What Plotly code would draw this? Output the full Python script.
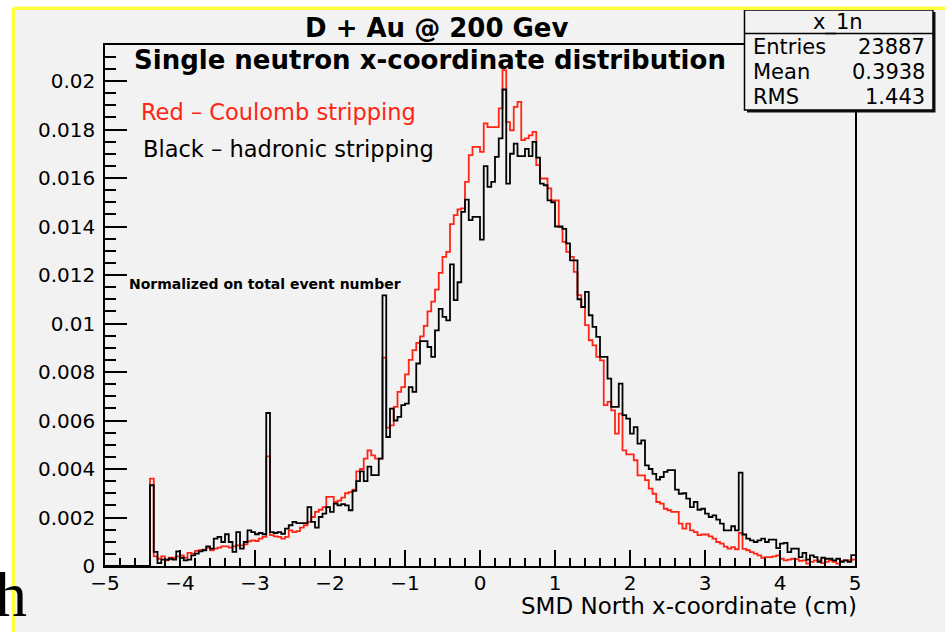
import numpy as np
import plotly.graph_objects as go

# ---------------- data (histogram contents, units of 1e-3) ----------------
BIN_LOW = -5.0
BIN_WIDTH = 0.05

black_hadronic_permille = [
    0, 0, 0, 0, 0, 0, 0, 0, 0, 0, 0, 0,
    3.33, 0.58, 0.12, 0.26, 0.26, 0.30, 0.26, 0.60, 0.34, 0.23,
    0.26, 0.44, 0.51, 0.60, 0.65, 0.81, 0.72, 1.13, 1.20, 0.99,
    1.31, 0.99, 0.58, 1.40, 0.72, 0.99, 1.47, 1.40, 1.31, 1.36,
    1.31, 6.31, 1.40, 1.36, 1.40, 1.33, 1.54, 1.68, 1.82, 1.77,
    1.77, 1.77, 2.43, 1.82, 1.58, 2.02, 2.16, 2.43, 2.23, 2.57,
    2.50, 2.55, 2.50, 2.30, 3.10, 3.50, 3.90, 3.50, 4.10, 3.75,
    3.75, 4.43, 11.16, 5.32, 6.49, 6.00, 6.15, 6.63, 6.70, 7.38,
    7.18, 8.35, 9.27, 9.27, 9.03, 8.62, 9.72, 10.60, 10.27, 10.13,
    12.44, 10.96, 11.70, 14.60, 15.11, 14.26, 14.40, 14.40, 13.46, 16.49,
    15.63, 15.84, 16.87, 17.63, 19.65, 15.77, 17.00, 17.42, 16.90, 16.90,
    17.20, 16.90, 17.49, 16.84, 15.77, 15.70, 15.08, 15.00, 14.00, 14.00,
    13.90, 13.30, 12.60, 12.60, 11.00, 10.68, 11.30, 10.34, 9.86, 9.45,
    8.62, 8.62, 7.73, 6.56, 6.56, 7.52, 6.22, 6.08, 5.46, 5.73,
    5.05, 5.18, 4.15, 4.00, 3.80, 3.56, 3.67, 3.88, 3.95, 3.95,
    3.15, 2.98, 3.00, 2.78, 2.43, 2.64, 2.32, 2.36, 2.16, 2.02,
    2.09, 1.91, 1.75, 1.47, 1.47, 1.64, 1.47, 3.85, 1.30, 1.13,
    1.06, 0.99, 1.06, 1.13, 0.99, 1.09, 1.09, 0.74, 0.92, 0.95,
    0.57, 0.72, 0.72, 0.37, 0.54, 0.26, 0.44, 0.37, 0.17, 0.34,
    0.30, 0.30, 0.23, 0.30, 0.17, 0.23, 0.17, 0.45,
]

red_coulomb_permille = [
    0, 0, 0, 0, 0, 0, 0, 0, 0, 0, 0, 0,
    3.60, 0.40, 0.30, 0.40, 0.23, 0.34, 0.34, 0.40, 0.44, 0.34,
    0.54, 0.51, 0.62, 0.65, 0.67, 0.76, 0.65, 0.72, 0.76, 0.81,
    0.81, 0.76, 0.81, 0.85, 0.85, 0.89, 1.02, 1.06, 1.03, 1.13,
    1.20, 4.52, 1.27, 1.22, 1.20, 1.13, 1.20, 1.47, 1.40, 1.44,
    1.58, 1.68, 1.82, 2.02, 2.23, 2.32, 2.43, 2.85, 2.85, 2.64,
    2.70, 2.82, 3.00, 3.05, 3.15, 3.90, 4.00, 4.43, 4.77, 4.56,
    4.43, 4.43, 8.59, 5.71, 5.80, 6.56, 7.18, 7.38, 7.90, 8.50,
    8.90, 9.20, 9.47, 9.90, 10.50, 10.90, 11.40, 12.09, 12.75, 12.95,
    14.10, 14.47, 14.70, 14.75, 15.84, 16.94, 17.28, 17.28, 17.08, 18.25,
    18.10, 18.10, 18.10, 18.87, 20.45, 18.30, 17.97, 18.93, 19.14, 17.56,
    17.63, 17.76, 17.90, 16.53, 15.98, 15.98, 15.57, 15.08, 15.08, 13.98,
    13.37, 12.95, 12.75, 12.13, 11.17, 10.68, 9.93, 9.31, 9.10, 8.62,
    8.48, 6.63, 6.77, 6.42, 5.46, 6.28, 4.77, 4.60, 4.60, 4.36,
    3.74, 3.74, 3.54, 3.19, 2.98, 2.64, 2.57, 2.36, 2.30, 2.23,
    2.23, 1.75, 1.54, 1.75, 1.47, 1.40, 1.27, 1.30, 1.30, 1.22,
    1.13, 0.99, 0.92, 0.80, 0.72, 0.78, 0.69, 1.36, 0.71, 0.65,
    0.57, 0.51, 0.44, 0.34, 0.37, 0.37, 0.40, 0.44, 0.30, 0.23,
    0.26, 0.30, 0.28, 0.21, 0.23, 0.10, 0.17, 0.23, 0.23, 0.12,
    0.17, 0.23, 0.17, 0.10, 0.21, 0.23, 0.23, 0.26,
]

title_text = "D + Au @ 200 Gev"
subtitle_text = "Single neutron x-coordinate distribution"
legend_texts = ["Red \u2013 Coulomb stripping", "Black \u2013 hadronic stripping"]
note_text = "Normalized on total event number"
x_title = "SMD North x-coordinate (cm)"
stats_name = "x_1n"
stats_labels = ["Entries", "Mean", "RMS"]
stats_values = ["23887", "0.3938", "1.443"]

# ---------------- geometry ----------------
W, H = 945, 632
L, R, T, B = 105, 855, 45, 566
YMAX = (B - T) / 48.5 * 0.002

def px(x):
    return (x - L) / (R - L)

def py(y):
    return (B - y) / (B - T)

FONT = "DejaVu Sans"
GRAY = "#f2f2f2"
YELLOW = "#ffff3c"
RED = "#ff2414"

n = len(black_hadronic_permille)
edges = BIN_LOW + BIN_WIDTH * np.arange(n + 1)

def step(vals):
    v = np.asarray(vals, dtype=float) * 1e-3
    return edges, np.append(v, v[-1])

fig = go.Figure()
xr, yr = step(red_coulomb_permille)
xb, yb = step(black_hadronic_permille)
fig.add_trace(go.Scatter(x=xr, y=yr, mode="lines", line=dict(color=RED, width=1.8, shape="hv"),
                         showlegend=False, hoverinfo="skip"))
fig.add_trace(go.Scatter(x=xb, y=yb, mode="lines", line=dict(color="black", width=1.8, shape="hv"),
                         showlegend=False, hoverinfo="skip"))

shapes = []
# white strips outside the yellow frame
shapes.append(dict(type="rect", xref="paper", yref="paper", x0=px(-5), x1=px(13.3), y0=py(H + 5), y1=py(-5),
                   fillcolor="white", line=dict(width=0), layer="below"))
shapes.append(dict(type="rect", xref="paper", yref="paper", x0=px(-5), x1=px(W + 5), y0=py(8.3), y1=py(-5),
                   fillcolor="white", line=dict(width=0), layer="below"))
# stats box shadow + box
shapes.append(dict(type="rect", xref="paper", yref="paper", x0=px(747), x1=px(935.5), y0=py(112.5), y1=py(12),
                   fillcolor="#111111", line=dict(width=0), layer="above"))
shapes.append(dict(type="rect", xref="paper", yref="paper", x0=px(744.5), x1=px(933), y0=py(110), y1=py(10),
                   fillcolor=GRAY, line=dict(color="black", width=1.5), layer="above"))
shapes.append(dict(type="line", xref="paper", yref="paper", x0=px(744.5), x1=px(933), y0=py(33.5), y1=py(33.5),
                   line=dict(color="black", width=1.5), layer="above"))
# yellow frame lines
shapes.append(dict(type="line", xref="paper", yref="paper", x0=px(13.3), x1=px(W + 5), y0=py(8.3), y1=py(8.3),
                   line=dict(color=YELLOW, width=3.5), layer="above"))
shapes.append(dict(type="line", xref="paper", yref="paper", x0=px(13.3), x1=px(13.3), y0=py(8.3), y1=py(H + 5),
                   line=dict(color=YELLOW, width=3.5), layer="above"))

ann = []
def text(s, x, y, size, xanchor="left", color="black", family=FONT, bold=False):
    ann.append(dict(text=("<b>%s</b>" % s) if bold else s, x=px(x), y=py(y), xref="paper", yref="paper",
                    xanchor=xanchor, yanchor="middle", showarrow=False,
                    font=dict(family=family, size=size, color=color)))

text(title_text, 436.5, 27.5, 26, xanchor="center", bold=True)
text(subtitle_text, 132, 60, 26, bold=True)
text(legend_texts[0], 139, 112, 22.5, color=RED)
text(legend_texts[1], 141, 149, 22.5)
text(note_text, 127, 284, 14, bold=True)
text(x_title, 859, 606, 23, xanchor="right")
text(stats_name, 838, 22, 21, xanchor="center")
for k, (lab, val) in enumerate(zip(stats_labels, stats_values)):
    yy = 47 + 25 * k
    text(lab, 751, yy, 21)
    text(val, 927, yy, 21, xanchor="right")
text("h", 29, 594, 64, xanchor="right", family="Liberation Serif")

fig.update_layout(
    width=W, height=H,
    margin=dict(l=L, r=W - R, t=T, b=H - B, pad=0),
    paper_bgcolor=GRAY, plot_bgcolor=GRAY,
    shapes=shapes, annotations=ann,
    showlegend=False,
    font=dict(family=FONT, color="black"),
)
fig.update_xaxes(
    range=[-5, 5], tickmode="linear", tick0=-5, dtick=1,
    ticks="inside", ticklen=16, tickwidth=1.5, tickcolor="black",
    showline=True, linewidth=1.5, linecolor="black", mirror=True,
    showgrid=False, zeroline=False,
    tickfont=dict(family=FONT, size=20, color="black"),
    ticklabelstandoff=-2,
    minor=dict(tick0=-5, dtick=0.2, ticks="inside", ticklen=8, tickwidth=1.5, tickcolor="black", showgrid=False),
)
fig.update_yaxes(
    range=[0, YMAX], tickmode="linear", tick0=0, dtick=0.002,
    ticks="inside", ticklen=22, tickwidth=1.5, tickcolor="black",
    showline=True, linewidth=1.5, linecolor="black", mirror=True,
    showgrid=False, zeroline=False,
    tickfont=dict(family=FONT, size=20, color="black"),
    ticklabelstandoff=4,
    minor=dict(tick0=0, dtick=0.0005, ticks="inside", ticklen=11, tickwidth=1.5, tickcolor="black", showgrid=False),
)

fig.write_html("out.html")
